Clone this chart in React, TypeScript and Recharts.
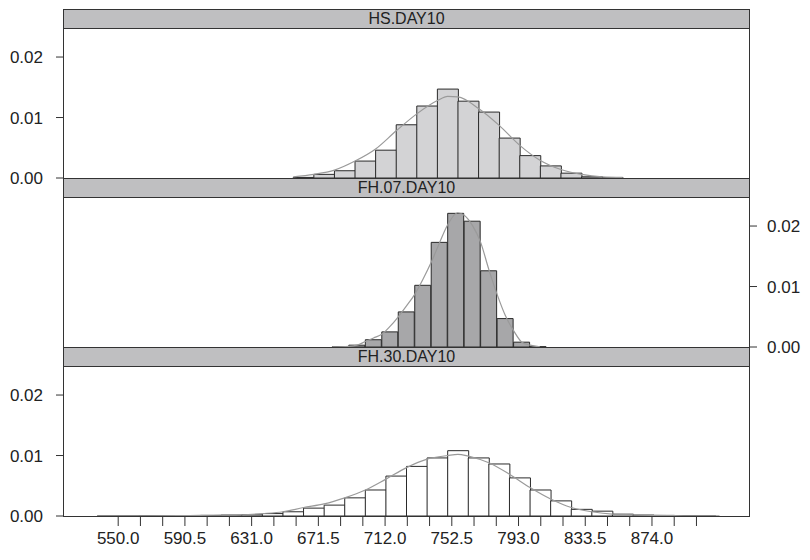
import { BarChart, Bar, LineChart, Line, XAxis, YAxis } from 'recharts'

// bin centres and densities
const HS_BIN_X = [662.5, 675, 687.5, 700, 712.5, 725, 737.5, 750, 762.5, 775, 787.5, 800, 812.5, 825, 837.5, 850]
const HS_BIN_Y = [0.0001, 0.0006, 0.0012, 0.0028, 0.0046, 0.0088, 0.0119, 0.0147, 0.0127, 0.0109, 0.0066, 0.0037, 0.002, 0.0008, 0.0002, 0.00004]
const HS_CURVE_X = [656.25, 668.75, 681.25, 693.75, 706.25, 718.75, 731.25, 743.75, 750, 756.25, 768.75, 781.25, 793.75, 806.25, 818.75, 831.25, 843.75, 856.25]
const HS_CURVE_Y = [0.0002, 0.0006, 0.0013, 0.0028, 0.0048, 0.0078, 0.0106, 0.0128, 0.0135, 0.0134, 0.0115, 0.0087, 0.0054, 0.0029, 0.0014, 0.0006, 0.0002, 0.0001]

const FH07_BIN_X = [685, 695, 705, 715, 725, 735, 745, 755, 765, 775, 785, 795, 805]
const FH07_BIN_Y = [0.00005, 0.0003, 0.0012, 0.0025, 0.0058, 0.0102, 0.0173, 0.0221, 0.0208, 0.0126, 0.0047, 0.0008, 0.00005]
const FH07_CURVE_X = [680, 690, 695, 700, 705, 710, 715, 720, 725, 730, 735, 740, 745, 750, 756, 760, 765, 770, 775, 780, 785, 790, 795, 800, 806]
const FH07_CURVE_Y = [0.00002, 0.0001, 0.0003, 0.0009, 0.0015, 0.0021, 0.0034, 0.005, 0.0068, 0.0087, 0.0112, 0.014, 0.0172, 0.0202, 0.0222, 0.0218, 0.0201, 0.0173, 0.0128, 0.0087, 0.0052, 0.0027, 0.0008, 0.0003, 0.00002]

const FH30_BIN_X = [543.75, 556.25, 568.75, 581.25, 593.75, 606.25, 618.75, 631.25, 643.75, 656.25, 668.75, 681.25, 693.75, 706.25, 718.75, 731.25, 743.75, 756.25, 768.75, 781.25, 793.75, 806.25, 818.75, 831.25, 843.75, 856.25, 868.75, 881.25, 893.75, 906.25]
const FH30_BIN_Y = [0.00003, 0.00003, 0.00005, 0.00005, 0.00008, 0.0001, 0.00015, 0.0002, 0.0004, 0.0007, 0.0013, 0.0018, 0.003, 0.0043, 0.0066, 0.0082, 0.0096, 0.0108, 0.0096, 0.0086, 0.0063, 0.0043, 0.0025, 0.0011, 0.0008, 0.0003, 0.00015, 0.0001, 0.00005, 0.00003]
const FH30_CURVE_X = [537.5, 562.5, 587.5, 600, 612.5, 625, 637.5, 650, 662.5, 675, 687.5, 700, 712.5, 725, 737.5, 750, 756.25, 762.5, 775, 787.5, 800, 812.5, 825, 837.5, 850, 862.5, 875, 887.5, 900, 915]
const FH30_CURVE_Y = [0.00002, 0.00004, 0.00007, 0.0001, 0.00014, 0.0002, 0.0004, 0.0007, 0.0014, 0.002, 0.003, 0.0043, 0.0061, 0.008, 0.0094, 0.01, 0.0102, 0.0099, 0.0088, 0.0069, 0.0047, 0.0028, 0.0014, 0.0007, 0.0003, 0.0002, 0.0001, 0.00005, 0.00003, 0.00001]

const X_TICKS = [550, 563.5, 577, 590.5, 604, 617.5, 631, 644.5, 658, 671.5, 685, 698.5, 712, 725.5, 739, 752.5, 766, 779.5, 793, 806.5, 820, 833.5, 847, 860.5, 874, 887.5, 901]
const X_LABELS = ['550.0', '', '', '590.5', '', '', '631.0', '', '', '671.5', '', '', '712.0', '', '', '752.5', '', '', '793.0', '', '', '833.5', '', '', '874.0', '', '']
const Y_TICKS = [0, 0.01, 0.02]

const X_DOMAIN: [number, number] = [516.5, 933.5]
const Y_DOMAIN: [number, number] = [0, 0.0248]

const FONT = '"Liberation Sans", Arial, Helvetica, sans-serif'
const LEFT = 63
const RIGHT = 750
const STRIP_H = 19
const PLOT_H = 150
const PAD = 10
const AXIS_H = 36

const zip = (xs: number[], ys: number[]) => xs.map((x, i) => ({ x, y: ys[i] }))

interface PanelProps {
    title: string
    top: number
    bins: { x: number; y: number }[]
    curve: { x: number; y: number }[]
    fill: string
    axisSide: 'left' | 'right'
    showX?: boolean
}

function Panel({ title, top, bins, curve, fill, axisSide, showX }: PanelProps) {
    const plotTop = top + STRIP_H
    const chartTop = plotTop - PAD
    const bottomSpace = showX ? AXIS_H : PAD
    const height = PAD + PLOT_H + bottomSpace
    const tickStyle = { fontSize: 17, fill: '#222', fontFamily: FONT }
    const barMargin =
        axisSide === 'left'
            ? { top: PAD, bottom: showX ? 0 : PAD, left: LEFT - 50, right: 810 - RIGHT }
            : { top: PAD, bottom: showX ? 0 : PAD, left: LEFT, right: 810 - RIGHT - 50 }

    return (
        <>
            <div style={{ position: 'absolute', left: 0, top: chartTop }}>
                <BarChart width={810} height={height} data={bins} margin={barMargin} barCategoryGap={0} barGap={0}>
                    <XAxis
                        dataKey="x"
                        type="number"
                        domain={X_DOMAIN}
                        allowDataOverflow
                        hide={!showX}
                        height={AXIS_H}
                        ticks={X_TICKS}
                        interval={0}
                        tickFormatter={(_v: number, i: number) => X_LABELS[i]}
                        tickSize={10}
                        tickMargin={6}
                        axisLine={false}
                        tickLine={{ stroke: '#333' }}
                        tick={tickStyle}
                    />
                    <YAxis
                        type="number"
                        domain={Y_DOMAIN}
                        allowDataOverflow
                        orientation={axisSide}
                        width={50}
                        ticks={Y_TICKS}
                        interval={0}
                        tickFormatter={(v: number) => v.toFixed(2)}
                        tickSize={7}
                        tickMargin={axisSide === 'left' ? 13 : 10}
                        axisLine={false}
                        tickLine={{ stroke: '#333' }}
                        tick={tickStyle}
                    />
                    <Bar dataKey="y" fill={fill} stroke="#2a2a2a" strokeWidth={1} isAnimationActive={false} />
                </BarChart>
            </div>
            <div style={{ position: 'absolute', left: 0, top: chartTop }}>
                <LineChart
                    width={810}
                    height={height}
                    data={curve}
                    margin={{ top: PAD, bottom: bottomSpace, left: LEFT, right: 810 - RIGHT }}
                >
                    <XAxis dataKey="x" type="number" domain={X_DOMAIN} allowDataOverflow hide />
                    <YAxis type="number" domain={Y_DOMAIN} allowDataOverflow hide />
                    <Line
                        type="monotone"
                        dataKey="y"
                        stroke="#9a9a9a"
                        strokeWidth={1.2}
                        dot={false}
                        isAnimationActive={false}
                    />
                </LineChart>
            </div>
            {/* strip */}
            <div
                style={{
                    position: 'absolute',
                    left: LEFT,
                    top,
                    width: RIGHT - LEFT,
                    height: STRIP_H + 1,
                    boxSizing: 'border-box',
                    background: '#bfbfc1',
                    border: '1px solid #333',
                    fontFamily: FONT,
                    fontSize: 16,
                    color: '#222',
                    textAlign: 'center',
                    lineHeight: `${STRIP_H - 1}px`,
                }}
            >
                {title}
            </div>
            {/* panel box */}
            <div
                style={{
                    position: 'absolute',
                    left: LEFT,
                    top,
                    width: RIGHT - LEFT,
                    height: STRIP_H + PLOT_H + 1,
                    boxSizing: 'border-box',
                    border: '1px solid #333',
                    pointerEvents: 'none',
                }}
            />
        </>
    )
}

export default function App() {
    return (
        <div style={{ position: 'absolute', left: 0, top: 0, width: 810, height: 560, background: '#fff' }}>
            <Panel title="HS.DAY10" top={9} bins={zip(HS_BIN_X, HS_BIN_Y)} curve={zip(HS_CURVE_X, HS_CURVE_Y)} fill="#d3d3d5" axisSide="left" />
            <Panel title="FH.07.DAY10" top={178} bins={zip(FH07_BIN_X, FH07_BIN_Y)} curve={zip(FH07_CURVE_X, FH07_CURVE_Y)} fill="#a7a7a9" axisSide="right" />
            <Panel title="FH.30.DAY10" top={347} bins={zip(FH30_BIN_X, FH30_BIN_Y)} curve={zip(FH30_CURVE_X, FH30_CURVE_Y)} fill="#ffffff" axisSide="left" showX />
        </div>
    )
}
